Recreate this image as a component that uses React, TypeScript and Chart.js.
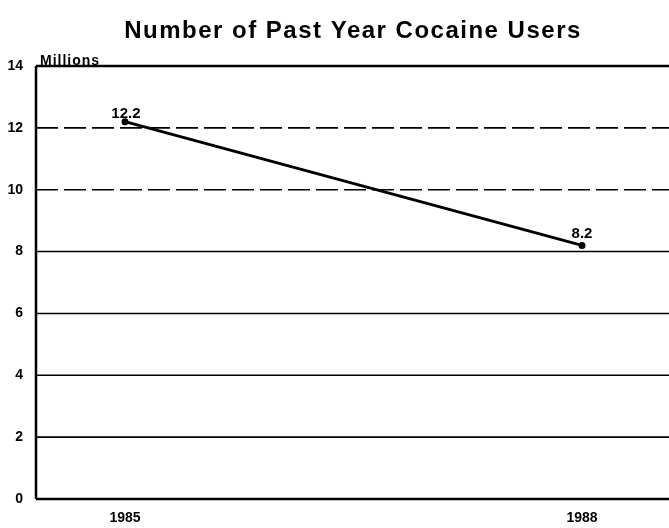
import React, { useEffect, useRef } from "react";
import { Chart, registerables } from "chart.js";

Chart.register(...registerables);

const TITLE = "Number of Past Year Cocaine Users";
const UNIT_LABEL = "Millions";
const years = [1985, 1988];
const users = [12.2, 8.2];
const yTicks = [0, 2, 4, 6, 8, 10, 12, 14];
const dashedGrid = [10, 12];

const FONT = "'Liberation Sans', Arial, sans-serif";

export default function App() {
  const ref = useRef<HTMLCanvasElement | null>(null);
  useEffect(() => {
    if (!ref.current) return;
    const overlay = {
      id: "overlay",
      beforeDatasetsDraw(chart: any) {
        const { ctx, chartArea, scales } = chart;
        const y = scales.y;
        const right = chart.width;
        ctx.save();
        ctx.strokeStyle = "#000";
        yTicks.forEach((v) => {
          const py = y.getPixelForValue(v);
          ctx.lineWidth = v === 0 || v === 14 ? 2.5 : 1.6;
          ctx.setLineDash(dashedGrid.includes(v) ? [22, 6] : []);
          ctx.beginPath();
          ctx.moveTo(chartArea.left, py);
          ctx.lineTo(right, py);
          ctx.stroke();
        });
        ctx.setLineDash([]);
        ctx.lineWidth = 2.5;
        ctx.beginPath();
        ctx.moveTo(chartArea.left, chartArea.top);
        ctx.lineTo(chartArea.left, chartArea.bottom);
        ctx.stroke();
        ctx.restore();
      },
      afterDraw(chart: any) {
        const { ctx, chartArea } = chart;
        ctx.save();
        ctx.fillStyle = "#000";
        ctx.font = `bold 24px ${FONT}`;
        (ctx as any).letterSpacing = "1.5px";
        ctx.textAlign = "center";
        ctx.textBaseline = "alphabetic";
        ctx.fillText(TITLE, 353, 38);
        (ctx as any).letterSpacing = "1px";
        ctx.font = `bold 14px ${FONT}`;
        ctx.textAlign = "left";
        ctx.fillText(UNIT_LABEL, chartArea.left + 4, chartArea.top - 1);
        (ctx as any).letterSpacing = "0px";
        const meta = chart.getDatasetMeta(0);
        ctx.font = `bold 15px ${FONT}`;
        ctx.textAlign = "center";
        meta.data.forEach((pt: any, i: number) => {
          ctx.fillText(String(users[i]), pt.x + (i === 0 ? 1 : 0), pt.y - (i === 0 ? 4 : 7));
        });
        ctx.restore();
      },
    };
    const chart = new Chart(ref.current, {
      type: "line",
      data: {
        datasets: [
          {
            data: years.map((x, i) => ({ x, y: users[i] })),
            borderColor: "#000",
            backgroundColor: "#000",
            borderWidth: 3,
            pointRadius: 2,
            tension: 0,
          },
        ],
      },
      options: {
        animation: false,
        responsive: false,
        layout: { padding: { top: 66, right: 0, left: 0, bottom: 0 } },
        plugins: { legend: { display: false }, tooltip: { enabled: false }, title: { display: false } },
        scales: {
          x: {
            type: "linear",
            min: 1984.416,
            max: 1988.525,
            afterBuildTicks: (s: any) => {
              s.ticks = years.map((v) => ({ value: v }));
            },
            afterFit: (s: any) => {
              s.height = 29;
              s.paddingLeft = 0;
              s.paddingRight = 0;
            },
            grid: { display: false },
            border: { display: false },
            ticks: {
              color: "#000",
              font: { family: FONT, weight: "bold", size: 14 },
              padding: 3,
              callback: (v: any) => String(v),
            },
          },
          y: {
            min: 0,
            max: 14,
            afterBuildTicks: (s: any) => {
              s.ticks = yTicks.map((v) => ({ value: v }));
            },
            afterFit: (s: any) => {
              s.width = 36;
              s.paddingTop = 0;
              s.paddingBottom = 0;
            },
            grid: { display: false },
            border: { display: false },
            ticks: {
              color: "#000",
              font: { family: FONT, weight: "bold", size: 14 },
              padding: 5,
            },
          },
        },
      },
      plugins: [overlay],
    });
    return () => chart.destroy();
  }, []);
  return (
    <div style={{ position: "fixed", left: 0, top: 0, width: 669, height: 528, background: "#fff" }}>
      <canvas ref={ref} width={669} height={528} />
    </div>
  );
}
